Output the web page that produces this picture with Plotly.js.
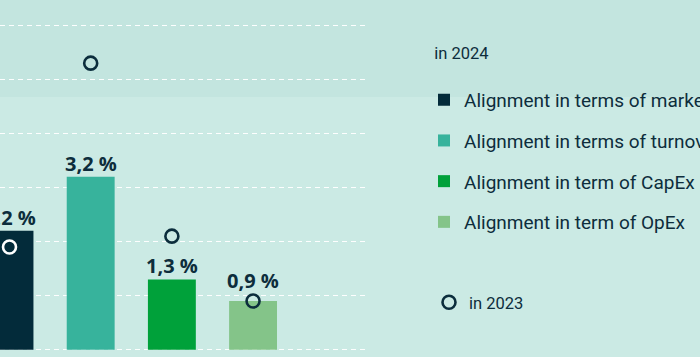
<!DOCTYPE html>
<html>
<head>
<meta charset="utf-8">
<script src="https://cdn.plot.ly/plotly-3.0.1.min.js"></script>
<style>html,body{margin:0;padding:0;background:#cbeae4;}#chart{width:700px;height:357px;}</style>
</head>
<body>
<div id="chart"></div>
<script>
// Data
const categories = ["Alignment in terms of market", "Alignment in terms of turnover", "Alignment in term of CapEx", "Alignment in term of OpEx"];
const values2024 = [2.2, 3.2, 1.3, 0.9];
const values2023 = [1.9, 5.3, 2.1, 0.9];
const barColors = ["#032b3a", "#37b39c", "#00a13a", "#84c489"];
const circleColors = ["#ffffff", "#0b2d3c", "#0b2d3c", "#0b2d3c"];
const legendTitle2024 = "in 2024";
const legendName2023 = "in 2023";

const textColor = "#0d2d3c";
const fmt = v => v.toFixed(1).replace(".", ",") + " %";
// label offsets (px) so a label clears an overlapping 2023 circle
const labelShift = [-2, -2, -2, 5];

const traces = categories.map((c, i) => ({
  type: "bar",
  x: [c],
  y: [values2024[i]],
  name: c,
  legendgroup: "g" + i,
  legend: "legend",
  width: 0.59,
  marker: {color: barColors[i], line: {width: 0}},
  hoverinfo: "skip"
}));

// put a dark point first so the legend symbol is dark
const order = [1, 2, 3, 0];
traces.push({
  type: "scatter",
  mode: "markers",
  x: order.map(i => categories[i]),
  y: order.map(i => values2023[i]),
  name: legendName2023,
  legend: "legend2",
  legendgroup: "y2023",
  cliponaxis: false,
  marker: {symbol: "circle-open", size: 13, color: order.map(i => circleColors[i]), line: {width: 2.6}},
  hoverinfo: "skip"
});

const annotations = categories.map((c, i) => ({
  x: c, y: values2024[i], xref: "x", yref: "y",
  text: fmt(values2024[i]),
  showarrow: false, yanchor: "bottom", xanchor: "center", yshift: labelShift[i],
  font: {family: "Open Sans", size: 20, color: textColor, weight: 700}
}));

const layout = {
  width: 700,
  height: 357,
  margin: {l: 0, r: 331, t: 0, b: 0},
  paper_bgcolor: "#cbeae4",
  plot_bgcolor: "rgba(0,0,0,0)",
  barmode: "overlay",
  showlegend: true,
  annotations: annotations,
  xaxis: {
    type: "category",
    categoryorder: "array",
    categoryarray: categories,
    range: [-0.117, 4.428],
    showticklabels: false, showgrid: false, zeroline: false, showline: false, ticks: ""
  },
  yaxis: {
    range: [-0.135, 6.468],
    tickvals: [0, 1, 2, 3, 4, 5, 6],
    showticklabels: false, ticks: "",
    showgrid: true, gridcolor: "rgba(255,255,255,0.95)", gridwidth: 1.4, griddash: "5px,4px",
    zeroline: false, showline: false
  },
  shapes: [{
    type: "rect", layer: "below", xref: "paper", yref: "paper",
    x0: -0.05, x1: 1.95, y0: 1 - 97/357, y1: 1.05,
    fillcolor: "#c3e5df", line: {width: 0}
  }],
  legend: {
    xref: "container", yref: "container",
    x: 424/700, y: 1 - 38/357, xanchor: "left", yanchor: "top",
    bgcolor: "rgba(0,0,0,0)", borderwidth: 0,
    maxheight: 350,
    title: {text: "\u00a0\u00a0" + legendTitle2024 + "<br> ", font: {family: "Roboto", size: 16.5, color: textColor}},
    font: {family: "Roboto", size: 19, color: textColor},
    tracegroupgap: 13,
    traceorder: "grouped",
    itemclick: false, itemdoubleclick: false
  },
  legend2: {
    xref: "container", yref: "container",
    x: 429/700, y: 1 - 285/357, xanchor: "left", yanchor: "top",
    bgcolor: "rgba(0,0,0,0)", borderwidth: 0,
    font: {family: "Roboto", size: 16.5, color: textColor},
    itemclick: false, itemdoubleclick: false
  }
};

Plotly.newPlot("chart", traces, layout, {staticPlot: true, displayModeBar: false});
</script>
</body>
</html>
